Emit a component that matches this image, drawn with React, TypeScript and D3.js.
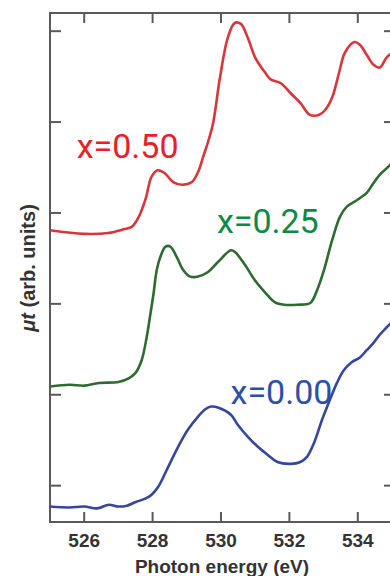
import React from 'react';
import * as d3 from 'd3';

const W = 390;
const H = 576;

// photon energy (eV) / absorption (arb. units)
const energy050 = [525.0, 526.0, 526.7, 527.15, 527.4, 527.6, 527.8, 527.97, 528.15, 528.35, 528.6, 528.87, 529.15, 529.33, 529.48, 529.62, 529.77, 529.97, 530.2, 530.4, 530.58, 530.78, 531.0, 531.28, 531.45, 531.74, 532.03, 532.32, 532.6, 532.87, 533.04, 533.25, 533.45, 533.62, 533.9, 534.06, 534.26, 534.46, 534.64, 534.84, 535.0];
const mu050 = [2.81, 2.77, 2.78, 2.82, 2.85, 2.96, 3.16, 3.4, 3.47, 3.44, 3.34, 3.31, 3.34, 3.45, 3.62, 3.78, 3.99, 4.49, 4.93, 5.09, 5.08, 4.93, 4.71, 4.55, 4.47, 4.43, 4.32, 4.21, 4.08, 4.08, 4.13, 4.27, 4.54, 4.76, 4.88, 4.85, 4.74, 4.63, 4.6, 4.71, 4.76];

const energy025 = [525.0, 525.57, 526.0, 526.43, 527.0, 527.3, 527.5, 527.68, 527.83, 527.94, 528.03, 528.12, 528.23, 528.38, 528.52, 528.7, 528.9, 529.1, 529.33, 529.62, 529.91, 530.29, 530.41, 530.7, 530.99, 531.28, 531.57, 531.85, 532.23, 532.61, 532.81, 533.01, 533.25, 533.48, 533.68, 533.97, 534.26, 534.46, 534.64, 534.84, 535.0];
const mu025 = [1.09, 1.11, 1.1, 1.13, 1.14, 1.18, 1.24, 1.38, 1.64, 1.9, 2.12, 2.37, 2.52, 2.63, 2.63, 2.52, 2.37, 2.3, 2.3, 2.35, 2.46, 2.59, 2.57, 2.43, 2.26, 2.13, 2.02, 1.99, 1.99, 2.01, 2.15, 2.37, 2.7, 2.96, 3.07, 3.14, 3.22, 3.33, 3.42, 3.49, 3.55];

const energy000 = [525.0, 525.57, 526.0, 526.38, 526.72, 527.0, 527.25, 527.51, 527.8, 527.97, 528.17, 528.46, 528.75, 529.04, 529.33, 529.54, 529.71, 529.91, 530.29, 530.49, 530.78, 531.07, 531.36, 531.65, 532.03, 532.32, 532.52, 532.72, 532.96, 533.19, 533.39, 533.59, 533.83, 534.06, 534.26, 534.46, 534.64, 534.84, 535.0];
const mu000 = [-0.23, -0.24, -0.23, -0.25, -0.21, -0.23, -0.22, -0.18, -0.14, -0.1, -0.01, 0.21, 0.43, 0.62, 0.76, 0.84, 0.87, 0.86, 0.78, 0.67, 0.54, 0.43, 0.34, 0.26, 0.24, 0.26, 0.32, 0.47, 0.73, 0.95, 1.13, 1.27, 1.36, 1.41, 1.49, 1.57, 1.66, 1.74, 1.8];

const xTicks = [526, 528, 530, 532, 534];
const yTicks = [0, 1, 2, 3, 4, 5];

const series = [
  { label: 'x=0.50', xs: energy050, ys: mu050, line: '#d9363a', text: '#e8202a', lx: 525.78, ly: 3.6 },
  { label: 'x=0.25', xs: energy025, ys: mu025, line: '#2f6a31', text: '#0b8a45', lx: 529.88, ly: 2.78 },
  { label: 'x=0.00', xs: energy000, ys: mu000, line: '#3646a0', text: '#2c4fa8', lx: 530.28, ly: 0.9 },
];

const left = 50, right = 392, top = 13, bottom = 522;
const axisColor = '#5a5a5a';

export default function App() {
  const x = d3.scaleLinear().domain([525, 535]).range([left, right]);
  const y = d3.scaleLinear().domain([-0.4, 5.2]).range([bottom, top]);

  const line = d3.line<[number, number]>()
    .x(d => x(d[0]))
    .y(d => y(d[1]))
    .curve(d3.curveCatmullRom.alpha(0.5));

  return (
    <svg width={W} height={H} style={{ position: 'absolute', left: 0, top: 0, background: '#fff' }}>
      <defs>
        <clipPath id="plot">
          <rect x={left} y={top} width={right - left} height={bottom - top} />
        </clipPath>
      </defs>

      {/* frame */}
      <g stroke={axisColor} strokeWidth={2} fill="none">
        <line x1={left} y1={top} x2={left} y2={bottom} />
        <line x1={left - 1} y1={bottom} x2={W} y2={bottom} />
        <line x1={left - 1} y1={top} x2={W} y2={top} />
        <line x1={right} y1={top} x2={right} y2={bottom} />
        {xTicks.map(t => (
          <g key={t}>
            <line x1={x(t)} x2={x(t)} y1={bottom} y2={bottom - 10} />
            <line x1={x(t)} x2={x(t)} y1={top} y2={top + 10} />
          </g>
        ))}
        {yTicks.map(t => (
          <g key={t}>
            <line x1={left} x2={left + 11} y1={y(t)} y2={y(t)} />
            <line x1={right} x2={right - 8} y1={y(t)} y2={y(t)} />
          </g>
        ))}
      </g>

      {/* spectra */}
      <g clipPath="url(#plot)" fill="none" strokeWidth={2.6} strokeLinejoin="round">
        {series.map(s => (
          <path key={s.label} d={line(s.xs.map((e, i) => [e, s.ys[i]] as [number, number])) || ''} stroke={s.line} />
        ))}
      </g>

      {series.map(s => (
        <text key={s.label} x={x(s.lx)} y={y(s.ly)} fill={s.text}
          fontFamily="Roboto, 'Noto Sans', sans-serif" fontSize={34}>
          {s.label}
        </text>
      ))}

      {/* tick labels */}
      <g fontFamily="'Liberation Sans', Arial, sans-serif" fontWeight="bold" fontSize={19} fill="#333" textAnchor="middle">
        {xTicks.map(t => (
          <text key={t} x={x(t)} y={547}>{t}</text>
        ))}
        <text x={222} y={573}>Photon energy (eV)</text>
        <text transform={`translate(35,268)rotate(-90)`} fontSize={20}>
          <tspan fontStyle="italic">μt</tspan> (arb. units)
        </text>
      </g>
    </svg>
  );
}
